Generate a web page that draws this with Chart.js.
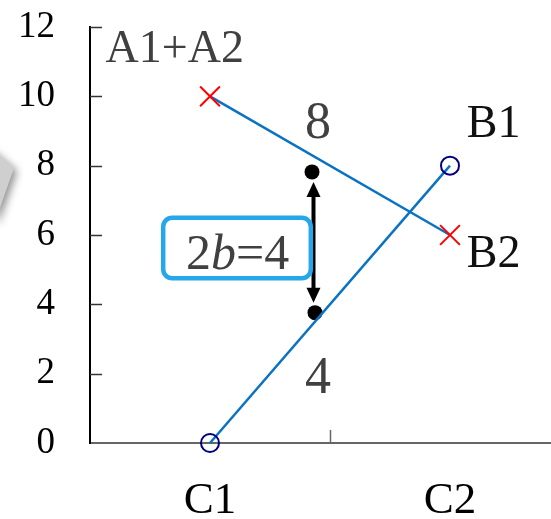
<!DOCTYPE html>
<html>
<head>
<meta charset="utf-8">
<script src="https://cdn.jsdelivr.net/npm/chart.js@4/dist/chart.umd.min.js"></script>
<style>
  html, body { margin: 0; padding: 0; background: #fff; }
  #wrap { width: 551px; height: 519px; position: relative; }
</style>
</head>
<body>
<div id="wrap"><canvas id="c" width="551" height="519"></canvas></div>
<script>
// ---- data ----
const categories = ['C1', 'C2'];
const categoryX = [1, 2];
const yTicks = [0, 2, 4, 6, 8, 10, 12];
const seriesCircle = [0, 8];     // C1 -> C2 (open circles)
const seriesCross = [10, 6];     // C1 -> C2 (red crosses)
const dotX = [1.425, 1.4375];
const dotY = [7.82, 3.76];
const labelTexts = ['A1+A2', '8', 'B1', 'B2', '4'];

const SERIF = "'Liberation Serif', 'DejaVu Serif', serif";

const toPts = (xs, ys) => xs.map((x, i) => ({ x: x, y: ys[i] }));

const decoPlugin = {
  id: 'deco',
  beforeDraw(chart) {
    const ctx = chart.ctx;
    ctx.save();
    ctx.shadowColor = 'rgba(0,0,0,0.45)';
    ctx.shadowBlur = 8;
    ctx.shadowOffsetX = 3;
    ctx.shadowOffsetY = 3;
    ctx.fillStyle = '#cfcfcf';
    ctx.beginPath();
    ctx.moveTo(-20, 140);
    ctx.lineTo(14, 168);
    ctx.lineTo(-5, 222);
    ctx.closePath();
    ctx.fill();
    ctx.restore();
  },
  afterDatasetsDraw(chart) {
    const ctx = chart.ctx;
    const xs = chart.scales.x, ys = chart.scales.y;
    const area = chart.chartArea;
    ctx.save();
    // inward ticks on y
    ctx.strokeStyle = '#333';
    ctx.lineWidth = 1.5;
    yTicks.forEach(v => {
      if (v === 0) return;
      const py = Math.round(ys.getPixelForValue(v)) + 0.5;
      ctx.beginPath();
      ctx.moveTo(area.left, py);
      ctx.lineTo(area.left + 12, py);
      ctx.stroke();
    });
    // inward tick on x between categories
    const bx = Math.round(xs.getPixelForValue((categoryX[0] + categoryX[1]) / 2)) + 0.5;
    ctx.strokeStyle = '#666';
    ctx.beginPath();
    ctx.moveTo(bx, area.bottom);
    ctx.lineTo(bx, area.bottom - 13);
    ctx.stroke();

    // double-headed arrow between the two dots
    const x1 = xs.getPixelForValue(dotX[0]), y1 = ys.getPixelForValue(dotY[0]);
    const x2 = xs.getPixelForValue(dotX[1]), y2 = ys.getPixelForValue(dotY[1]);
    const ax = (x1 + x2) / 2;
    const top = y1 + 10, bot = y2 - 10;
    ctx.strokeStyle = '#000';
    ctx.fillStyle = '#000';
    ctx.lineWidth = 4;
    ctx.beginPath();
    ctx.moveTo(ax, top + 12);
    ctx.lineTo(ax, bot - 12);
    ctx.stroke();
    ctx.beginPath();
    ctx.moveTo(ax, top); ctx.lineTo(ax - 7, top + 15); ctx.lineTo(ax + 7, top + 15); ctx.closePath(); ctx.fill();
    ctx.beginPath();
    ctx.moveTo(ax, bot); ctx.lineTo(ax - 7, bot - 15); ctx.lineTo(ax + 7, bot - 15); ctx.closePath(); ctx.fill();

    // text annotations
    ctx.textBaseline = 'alphabetic';
    const txt = (s, xv, yv, align, color, size) => {
      ctx.font = size + 'px ' + SERIF;
      ctx.fillStyle = color;
      ctx.textAlign = align;
      ctx.fillText(s, xs.getPixelForValue(xv), ys.getPixelForValue(yv));
    };
    txt(labelTexts[0], 0.565, 10.98, 'left', '#404040', 46);
    txt(labelTexts[1], 1.45, 8.8, 'center', '#404040', 52);
    txt(labelTexts[2], 2.07, 8.82, 'left', '#111', 46);
    txt(labelTexts[3], 2.07, 5.07, 'left', '#111', 46);
    txt(labelTexts[4], 1.45, 1.45, 'center', '#404040', 52);

    // boxed formula 2b=4
    const bl = xs.getPixelForValue(0.805), br = xs.getPixelForValue(1.42);
    const bt = ys.getPixelForValue(6.5), bb = ys.getPixelForValue(4.75);
    ctx.strokeStyle = '#27a7ea';
    ctx.lineWidth = 4.5;
    ctx.beginPath();
    ctx.roundRect(bl, bt, br - bl, bb - bt, 9);
    ctx.stroke();
    let px = xs.getPixelForValue(0.9);
    const py = ys.getPixelForValue(5.02);
    ctx.fillStyle = '#404040';
    ctx.textAlign = 'left';
    ctx.font = '50px ' + SERIF;
    ctx.fillText('2', px, py); px += ctx.measureText('2').width;
    ctx.font = 'italic 50px ' + SERIF;
    ctx.fillText('b', px, py); px += ctx.measureText('b').width;
    ctx.font = '50px ' + SERIF;
    ctx.fillText('=4', px, py);
    ctx.restore();
  }
};

new Chart(document.getElementById('c'), {
  type: 'scatter',
  data: {
    datasets: [
      {
        data: toPts(categoryX, seriesCircle),
        showLine: true,
        borderColor: '#0a72c2',
        borderWidth: 2.5,
        pointStyle: 'circle',
        pointRadius: 9,
        pointBorderColor: '#00007f',
        pointBorderWidth: 2,
        pointBackgroundColor: 'rgba(0,0,0,0)',
        clip: false
      },
      {
        data: toPts(categoryX, seriesCross),
        showLine: true,
        borderColor: '#0a72c2',
        borderWidth: 2.5,
        pointStyle: 'crossRot',
        pointRadius: 14,
        pointBorderColor: '#ff0000',
        pointBorderWidth: 2,
        clip: false
      },
      {
        data: toPts(dotX, dotY),
        showLine: false,
        pointStyle: 'circle',
        pointRadius: 7.5,
        pointBackgroundColor: '#000',
        pointBorderColor: '#000',
        pointBorderWidth: 0,
        clip: false
      }
    ]
  },
  options: {
    responsive: false,
    animation: false,
    layout: { autoPadding: false, padding: { top: 27, left: 0, right: 0, bottom: 0 } },
    plugins: { legend: { display: false }, tooltip: { enabled: false } },
    scales: {
      x: {
        type: 'linear',
        min: 0.5,
        max: 0.5 + 461 / 240,
        afterBuildTicks: (s) => { s.ticks = categoryX.map(v => ({ value: v })); },
        afterFit: (s) => { s.height = 76; s.paddingLeft = 0; s.paddingRight = 0; },
        ticks: {
          callback: (v) => categories[categoryX.indexOf(v)] || '',
          font: { family: SERIF, size: 45 },
          color: '#000',
          padding: 31,
          maxRotation: 0,
          autoSkip: false
        },
        grid: { display: true, drawOnChartArea: false, drawTicks: false },
        border: { display: true, color: '#666', width: 2 }
      },
      y: {
        min: 0,
        max: 12,
        afterBuildTicks: (s) => { s.ticks = yTicks.map(v => ({ value: v })); },
        afterFit: (s) => { s.width = 90; s.paddingTop = 0; s.paddingBottom = 0; },
        ticks: {
          font: { family: SERIF, size: 37 },
          color: '#000',
          padding: 35
        },
        grid: { display: true, drawOnChartArea: false, drawTicks: false },
        border: { display: true, color: '#000', width: 2 }
      }
    }
  },
  plugins: [decoPlugin]
});
</script>
</body>
</html>
